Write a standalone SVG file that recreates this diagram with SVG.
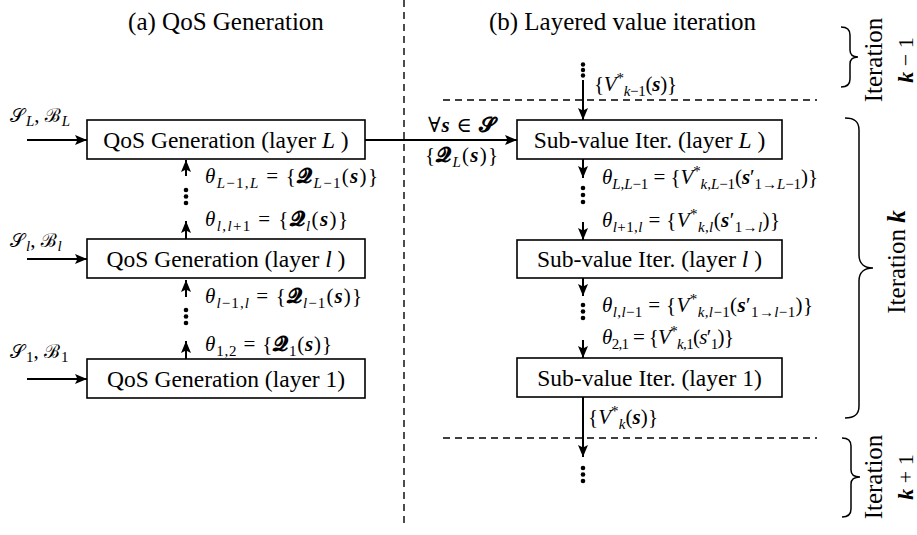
<svg xmlns="http://www.w3.org/2000/svg" width="917" height="535" viewBox="0 0 917 535">
<style>
.t{font-family:"Liberation Serif","Times New Roman",Tinos,"Nimbus Roman","DejaVu Serif","Noto Serif",serif;fill:#000}
.ttl{font-size:25px}
.bx{font-size:23.5px;text-anchor:middle}
.m{font-family:"Liberation Serif","Times New Roman",Tinos,"Nimbus Roman","DejaVu Serif","Noto Serif",serif;font-size:21px;fill:#000}
.i{font-style:italic}
.b{font-style:italic;font-weight:bold}
.s{font-size:15px}
.q{font-weight:bold}
.sc{font-size:19px}
.box{fill:#fff;stroke:#000;stroke-width:1.6}
.ln{stroke:#000;stroke-width:2;fill:none}
.dash{stroke:#000;stroke-width:1.4;stroke-dasharray:7 5;fill:none}
.br{stroke:#000;stroke-width:1.5;fill:none}
.dot{fill:#000}
</style>
<defs>
<marker id="ah" viewBox="0 0 12 10" refX="12" refY="5" markerWidth="12" markerHeight="10" markerUnits="userSpaceOnUse" orient="auto">
<path d="M0,0 L12,5 L0,10 L2.5,5 Z" fill="#000"/>
</marker>
</defs>

<g id="dividers">
<line class="dash" x1="404" y1="0" x2="404" y2="528"/>
<line class="dash" x1="443" y1="100" x2="817" y2="100"/>
<line class="dash" x1="443" y1="438" x2="817" y2="438"/>
</g>

<text class="t ttl" x="226" y="30" text-anchor="middle">(a) QoS Generation</text>
<text class="t ttl" x="622.5" y="30" text-anchor="middle">(b) Layered value iteration</text>

<g id="qos-L">
<rect class="box" x="87" y="120" width="278" height="39"/>
<text class="t bx" x="226" y="148">QoS Generation (layer <tspan class="i">L</tspan> )</text>
</g>
<g id="qos-l">
<rect class="box" x="87" y="239" width="278" height="39"/>
<text class="t bx" x="226" y="267">QoS Generation (layer <tspan class="i">l</tspan> )</text>
</g>
<g id="qos-1">
<rect class="box" x="87" y="359" width="278" height="39"/>
<text class="t bx" x="226" y="387">QoS Generation (layer 1)</text>
</g>

<g id="svi-L">
<rect class="box" x="517" y="120" width="265" height="39"/>
<text class="t bx" x="649.5" y="148">Sub-value Iter. (layer <tspan class="i">L</tspan> )</text>
</g>
<g id="svi-l">
<rect class="box" x="517" y="240" width="265" height="38"/>
<text class="t bx" x="649.5" y="267">Sub-value Iter. (layer <tspan class="i">l</tspan> )</text>
</g>
<g id="svi-1">
<rect class="box" x="517" y="358" width="265" height="39"/>
<text class="t bx" x="649.5" y="386">Sub-value Iter. (layer 1)</text>
</g>

<g id="connectors">
<line class="ln" x1="27" y1="140" x2="87" y2="140" marker-end="url(#ah)"/>
<line class="ln" x1="27" y1="259" x2="87" y2="259" marker-end="url(#ah)"/>
<line class="ln" x1="27" y1="379" x2="87" y2="379" marker-end="url(#ah)"/>
<line class="ln" x1="186" y1="176" x2="186" y2="160" marker-end="url(#ah)"/>
<line class="ln" x1="186" y1="239" x2="186" y2="221" marker-end="url(#ah)"/>
<line class="ln" x1="186" y1="297" x2="186" y2="280" marker-end="url(#ah)"/>
<line class="ln" x1="186" y1="359" x2="186" y2="341" marker-end="url(#ah)"/>
<line class="ln" x1="365" y1="140" x2="517" y2="140" marker-end="url(#ah)"/>
<line class="ln" x1="583" y1="80" x2="583" y2="120" marker-end="url(#ah)"/>
<line class="ln" x1="583" y1="159" x2="583" y2="178" marker-end="url(#ah)"/>
<line class="ln" x1="583" y1="222" x2="583" y2="240" marker-end="url(#ah)"/>
<line class="ln" x1="583" y1="278" x2="583" y2="296" marker-end="url(#ah)"/>
<line class="ln" x1="583" y1="340" x2="583" y2="358" marker-end="url(#ah)"/>
<line class="ln" x1="583" y1="397" x2="583" y2="457" marker-end="url(#ah)"/>
<circle class="dot" cx="186" cy="190" r="2.3"/><circle class="dot" cx="186" cy="196.5" r="2.3"/><circle class="dot" cx="186" cy="203" r="2.3"/>
<circle class="dot" cx="186" cy="310" r="2.3"/><circle class="dot" cx="186" cy="316.5" r="2.3"/><circle class="dot" cx="186" cy="323" r="2.3"/>
<circle class="dot" cx="583" cy="64.5" r="2.2"/><circle class="dot" cx="583" cy="70" r="2.2"/><circle class="dot" cx="583" cy="75.5" r="2.2"/>
<circle class="dot" cx="583" cy="188" r="2.3"/><circle class="dot" cx="583" cy="195" r="2.3"/><circle class="dot" cx="583" cy="202" r="2.3"/>
<circle class="dot" cx="583" cy="305" r="2.3"/><circle class="dot" cx="583" cy="311.5" r="2.3"/><circle class="dot" cx="583" cy="318" r="2.3"/>
<circle class="dot" cx="583" cy="468" r="2.3"/><circle class="dot" cx="583" cy="474.5" r="2.3"/><circle class="dot" cx="583" cy="481" r="2.3"/>
</g>

<g id="labels">
<text class="m" x="10" y="122"><tspan class="sc">&#x1D4AE;</tspan><tspan class="s i" dx="1" dy="4">L</tspan><tspan dy="-4">, </tspan><tspan class="sc">ℬ</tspan><tspan class="s i" dx="1" dy="4">L</tspan></text>
<text class="m" x="10" y="247"><tspan class="sc">&#x1D4AE;</tspan><tspan class="s i" dx="1" dy="4">l</tspan><tspan dy="-4">, </tspan><tspan class="sc">ℬ</tspan><tspan class="s i" dx="1" dy="4">l</tspan></text>
<text class="m" x="10" y="358"><tspan class="sc">&#x1D4AE;</tspan><tspan class="s" dx="1" dy="4">1</tspan><tspan dy="-4">, </tspan><tspan class="sc">ℬ</tspan><tspan class="s" dx="1" dy="4">1</tspan></text>

<text class="m" x="205" y="183" textLength="173"><tspan class="i">θ</tspan><tspan class="s" dy="5"><tspan class="i">L</tspan>−1,<tspan class="i">L</tspan></tspan><tspan dy="-5"> = {</tspan><tspan class="q">&#x1D4E0;</tspan><tspan class="s" dy="5"><tspan class="i">L</tspan>−1</tspan><tspan dy="-5">(</tspan><tspan class="b">s</tspan>)}</text>
<text class="m" x="205" y="226" textLength="143"><tspan class="i">θ</tspan><tspan class="s" dy="5"><tspan class="i">l</tspan>,<tspan class="i">l</tspan>+1</tspan><tspan dy="-5"> = {</tspan><tspan class="q">&#x1D4E0;</tspan><tspan class="s i" dy="5">l</tspan><tspan dy="-5">(</tspan><tspan class="b">s</tspan>)}</text>
<text class="m" x="205" y="303" textLength="157"><tspan class="i">θ</tspan><tspan class="s" dy="5"><tspan class="i">l</tspan>−1,<tspan class="i">l</tspan></tspan><tspan dy="-5"> = {</tspan><tspan class="q">&#x1D4E0;</tspan><tspan class="s" dy="5"><tspan class="i">l</tspan>−1</tspan><tspan dy="-5">(</tspan><tspan class="b">s</tspan>)}</text>
<text class="m" x="205" y="351" textLength="127"><tspan class="i">θ</tspan><tspan class="s" dy="5">1,2</tspan><tspan dy="-5"> = {</tspan><tspan class="q">&#x1D4E0;</tspan><tspan class="s" dy="5">1</tspan><tspan dy="-5">(</tspan><tspan class="b">s</tspan>)}</text>

<text class="m" x="428" y="132" textLength="67">∀<tspan class="b">s</tspan> ∈ <tspan class="q">&#x1D4E2;</tspan></text>
<text class="m" x="425" y="162" textLength="73">{<tspan class="q">&#x1D4E0;</tspan><tspan class="s i" dy="5">L</tspan><tspan dy="-5">(</tspan><tspan class="b">s</tspan>)}</text>

<text class="m" x="594" y="91" textLength="83">{<tspan class="i">V</tspan><tspan class="s" dy="-8">*</tspan><tspan class="s" dy="13"><tspan class="i">k</tspan>−1</tspan><tspan dy="-5">(</tspan><tspan class="b">s</tspan>)}</text>
<text class="m" x="602" y="184" textLength="216"><tspan class="i">θ</tspan><tspan class="s" dy="5"><tspan class="i">L</tspan>,<tspan class="i">L</tspan>−1</tspan><tspan dy="-5"> = {</tspan><tspan class="i">V</tspan><tspan class="s" dy="-8">*</tspan><tspan class="s" dy="13"><tspan class="i">k</tspan>,<tspan class="i">L</tspan>−1</tspan><tspan dy="-5">(</tspan><tspan class="b">s</tspan>′<tspan class="s" dy="5">1→<tspan class="i">L</tspan>−1</tspan><tspan dy="-5">)}</tspan></text>
<text class="m" x="602" y="227" textLength="178"><tspan class="i">θ</tspan><tspan class="s" dy="5"><tspan class="i">l</tspan>+1,<tspan class="i">l</tspan></tspan><tspan dy="-5"> = {</tspan><tspan class="i">V</tspan><tspan class="s" dy="-8">*</tspan><tspan class="s" dy="13"><tspan class="i">k</tspan>,<tspan class="i">l</tspan></tspan><tspan dy="-5">(</tspan><tspan class="b">s</tspan>′<tspan class="s" dy="5">1→<tspan class="i">l</tspan></tspan><tspan dy="-5">)}</tspan></text>
<text class="m" x="602" y="312" textLength="211"><tspan class="i">θ</tspan><tspan class="s" dy="5"><tspan class="i">l</tspan>,<tspan class="i">l</tspan>−1</tspan><tspan dy="-5"> = {</tspan><tspan class="i">V</tspan><tspan class="s" dy="-8">*</tspan><tspan class="s" dy="13"><tspan class="i">k</tspan>,<tspan class="i">l</tspan>−1</tspan><tspan dy="-5">(</tspan><tspan class="b">s</tspan>′<tspan class="s" dy="5">1→<tspan class="i">l</tspan>−1</tspan><tspan dy="-5">)}</tspan></text>
<text class="m" x="602" y="344" textLength="132"><tspan class="i">θ</tspan><tspan class="s" dy="5">2,1</tspan><tspan dy="-5"> = {</tspan><tspan class="i">V</tspan><tspan class="s" dy="-8">*</tspan><tspan class="s" dy="13"><tspan class="i">k</tspan>,1</tspan><tspan dy="-5">(</tspan><tspan class="i">s</tspan>′<tspan class="s" dy="5">1</tspan><tspan dy="-5">)}</tspan></text>
<text class="m" x="588" y="424" textLength="70">{<tspan class="i">V</tspan><tspan class="s" dy="-8">*</tspan><tspan class="s i" dy="13">k</tspan><tspan dy="-5">(</tspan><tspan class="b">s</tspan>)}</text>
</g>

<g id="braces">
<path class="br" d="M841,27 C847,27 850,29 850,35 L850,50 C850,55 853,57 858,57 C853,57 850,59 850,64 L850,79 C850,85 847,87 841,87"/>
<path class="br" d="M845,118 C854,118 859,121 859,130 L859,255 C859,264 865,268 873,268 C865,268 859,272 859,281 L859,406 C859,415 854,418 845,418"/>
<path class="br" d="M842,438 C848,438 851,440 851,446 L851,470 C851,475 854,477 860,477 C854,477 851,479 851,484 L851,509 C851,515 848,517 842,517"/>
</g>
<g id="iter-labels">
<text class="t" font-size="25" text-anchor="middle" transform="translate(882,60) rotate(-90)">Iteration</text>
<text class="t" font-size="22" text-anchor="middle" transform="translate(913,60) rotate(-90)"><tspan class="b">k</tspan> − 1</text>
<text class="t" font-size="25" text-anchor="middle" transform="translate(905,262) rotate(-90)">Iteration <tspan class="b">k</tspan></text>
<text class="t" font-size="25" text-anchor="middle" transform="translate(882,477) rotate(-90)">Iteration</text>
<text class="t" font-size="22" text-anchor="middle" transform="translate(913,477) rotate(-90)"><tspan class="b">k</tspan> + 1</text>
</g>
</svg>
